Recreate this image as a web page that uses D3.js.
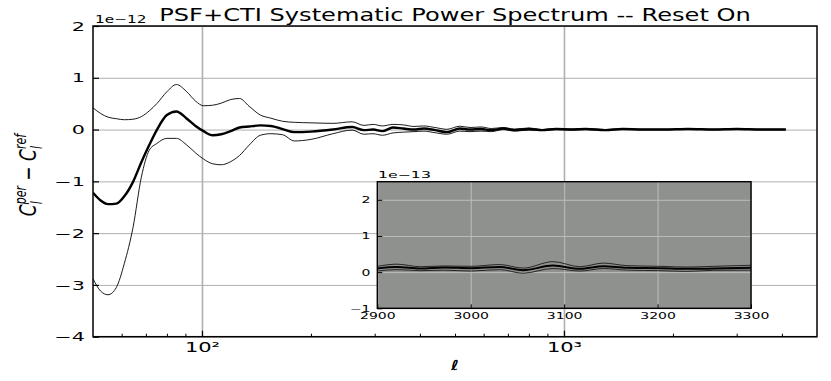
<!DOCTYPE html>
<html>
<head>
<meta charset="utf-8">
<script src="https://cdn.jsdelivr.net/npm/d3@7"></script>
<style>
	body { margin: 0; background: white; }
	text { font-family: "DejaVu Sans", sans-serif; fill: black; }
</style>
</head>
<body>
<div id="chart"></div>
<script>

// multipole values and the three curves (units of 1e-12)
const ell = [50, 52.5, 55, 58, 61, 64.5, 68, 71.5, 75, 80,
	85, 90.5, 96, 101, 107, 113, 120, 127, 135, 145,
	155, 167, 180, 200, 230, 260, 280, 297, 315, 337,
	360, 385, 410, 440, 475, 515, 550, 590, 630, 680,
	730, 800, 870, 950, 1050, 1150, 1300, 1450, 1650, 1900,
	2200, 2600, 3000, 3500, 4100];

const meanVals = [-1.22, -1.37, -1.44, -1.43, -1.29, -1.01, -0.63, -0.30, -0.01, 0.28,
	0.35, 0.22, 0.07, -0.03, -0.11, -0.09, -0.03, 0.04, 0.06, 0.08,
	0.07, 0.01, -0.05, -0.04, 0.0, 0.05, -0.01, 0.0, -0.03, 0.04,
	0.02, 0.0, 0.02, -0.01, -0.05, 0.02, 0.0, 0.01, -0.01, 0.02,
	-0.01, 0.01, -0.01, 0.01, 0.0, 0.01, -0.01, 0.01, 0.0, 0.0,
	0.01, 0.0, 0.01, 0.0, 0.0];

const upperVals = [0.42, 0.31, 0.24, 0.21, 0.19, 0.20, 0.25, 0.36, 0.50, 0.73,
	0.87, 0.74, 0.55, 0.46, 0.47, 0.51, 0.58, 0.60, 0.45, 0.28,
	0.22, 0.16, 0.14, 0.13, 0.12, 0.15, 0.08, 0.10, 0.07, 0.10,
	0.09, 0.06, 0.07, 0.04, 0.005, 0.065, 0.04, 0.05, 0.02, 0.04,
	0.01, 0.03, 0.0, 0.02, 0.01, 0.02, 0.0, 0.015, 0.005, 0.005,
	0.01, 0.005, 0.01, 0.005, 0.005];

const lowerVals = [-2.88, -3.12, -3.19, -3.05, -2.59, -1.89, -0.92, -0.40, -0.27, -0.17,
	-0.17, -0.29, -0.45, -0.57, -0.66, -0.68, -0.62, -0.50, -0.30, -0.11,
	-0.08, -0.10, -0.22, -0.19, -0.08, -0.01, -0.09, -0.08, -0.11, -0.065,
	-0.05, -0.04, -0.03, -0.06, -0.09, -0.03, -0.04, -0.03, -0.04, 0.0,
	-0.03, -0.01, -0.02, 0.0, -0.01, 0.0, -0.02, 0.005, -0.005, -0.005,
	0.01, -0.005, 0.01, -0.005, -0.005];

// zoomed inset, 2900 < l < 3300 (units of 1e-13)
const insetEll = [2900, 2921, 2946, 2971, 3000, 3031, 3056, 3088, 3117, 3142, 3167, 3203, 3231, 3260, 3300];
const insetMean = [0.10, 0.14, 0.10, 0.13, 0.11, 0.14, 0.055, 0.18, 0.09, 0.16, 0.12, 0.11, 0.09, 0.10, 0.12];
const insetUpper = [0.16, 0.22, 0.15, 0.17, 0.16, 0.21, 0.11, 0.29, 0.15, 0.25, 0.18, 0.16, 0.14, 0.16, 0.19];
const insetLower = [0.03, 0.07, 0.04, 0.055, 0.03, 0.07, -0.03, 0.10, 0.03, 0.10, 0.055, 0.04, 0.02, 0.05, 0.055];

// ticks
const yTicks = [-4, -3, -2, -1, 0, 1, 2];
const xMajorTicks = [100, 1000];
const xMinorTicks = [60, 70, 80, 90, 200, 300, 400, 500, 600, 700, 800, 900, 2000, 3000, 4000];
const insetXTicks = [2900, 3000, 3100, 3200, 3300];
const insetYTicks = [-1, 0, 1, 2];
const superscripts = {100: "10²", 1000: "10³"};

function main() {

	const SVG_WIDTH = 831;
	const SVG_HEIGHT = 381;

	// main axes box
	var margin = {top: 26, left: 93, right: 14, bottom: 44.3};
	var width = SVG_WIDTH - margin.left - margin.right;
	var height = SVG_HEIGHT - margin.top - margin.bottom;

	// the text in the picture is wide, so stretch it sideways
	const SX_TITLE = 1.42;
	const SX_TICK = 1.8;
	const SX_SMALL = 1.75;
	var intFormat = d3.format("d");

	var svg = d3.select("#chart")
		.append("svg")
		.attr("width", SVG_WIDTH)
		.attr("height", SVG_HEIGHT);

	var g = svg.append("g")
		.attr("transform", "translate(" + margin.left + "," + margin.top + ")");

	var x = d3.scaleLog().domain([50, 5000]).range([0, width]);
	var y = d3.scaleLinear().domain([-4, 2]).range([height, 0]);

	g.append("clipPath").attr("id", "clip-main")
		.append("rect").attr("width", width).attr("height", height);

	// grid
	g.append("g")
		.attr("class", "grid")
		.call(d3.axisLeft(y).tickValues(yTicks).tickSize(-width).tickFormat(""))
		.call(s => s.select(".domain").remove())
		.call(s => s.selectAll("line").attr("stroke", "#b0b0b0").attr("stroke-width", 1));
	g.append("g")
		.attr("class", "grid")
		.attr("transform", "translate(0," + height + ")")
		.call(d3.axisBottom(x).tickValues(xMajorTicks).tickSize(-height).tickFormat(""))
		.call(s => s.select(".domain").remove())
		.call(s => s.selectAll("line").attr("stroke", "#b0b0b0").attr("stroke-width", 1.6));

	// curves
	var pts = vals => ell.map((l, i) => [l, vals[i]]);
	var line = d3.line()
		.x(d => x(d[0]))
		.y(d => y(d[1]))
		.curve(d3.curveMonotoneX);

	var curves = g.append("g").attr("clip-path", "url(#clip-main)");
	curves.append("path").attr("d", line(pts(upperVals)))
		.attr("fill", "none").attr("stroke", "black").attr("stroke-width", 0.9);
	curves.append("path").attr("d", line(pts(lowerVals)))
		.attr("fill", "none").attr("stroke", "black").attr("stroke-width", 0.9);
	curves.append("path").attr("d", line(pts(meanVals)))
		.attr("fill", "none").attr("stroke", "black").attr("stroke-width", 2.4);

	// axes, ticks pointing inwards
	var yAxis = g.append("g")
		.call(d3.axisLeft(y).tickValues(yTicks).tickSizeInner(-6).tickSizeOuter(0).tickFormat(intFormat))
		.call(s => s.select(".domain").remove());
	yAxis.selectAll("line").attr("stroke-width", 1.2);
	yAxis.selectAll("text")
		.attr("x", -8 / SX_TICK)
		.attr("dy", "0.36em")
		.attr("transform", "scale(" + SX_TICK + ",1)")
		.style("font-size", "11.5px")
		.style("font-family", "DejaVu Sans");

	var xAxis = g.append("g")
		.attr("transform", "translate(0," + height + ")")
		.call(d3.axisBottom(x).tickValues(xMajorTicks).tickSizeInner(-6).tickSizeOuter(0)
			.tickFormat(d => superscripts[d]))
		.call(s => s.select(".domain").remove());
	xAxis.selectAll("line").attr("stroke-width", 1.2);
	xAxis.selectAll("text")
		.attr("y", 15.5)
		.attr("dy", 0)
		.attr("transform", "scale(1.5,1)")
		.style("font-size", "14px")
		.style("font-family", "DejaVu Sans");

	g.append("g")
		.attr("transform", "translate(0," + height + ")")
		.call(d3.axisBottom(x).tickValues(xMinorTicks).tickSizeInner(-3).tickSizeOuter(0).tickFormat(""))
		.call(s => s.select(".domain").remove())
		.call(s => s.selectAll("line").attr("stroke-width", 1));

	// frame
	g.append("rect")
		.attr("width", width).attr("height", height)
		.attr("fill", "none").attr("stroke", "black").attr("stroke-width", 1.5);

	// title and offset text
	svg.append("text")
		.attr("transform", "translate(455,21) scale(" + SX_TITLE + ",1)")
		.attr("text-anchor", "middle")
		.style("font-size", "17px")
		.text("PSF+CTI Systematic Power Spectrum -- Reset On");
	svg.append("text")
		.attr("transform", "translate(95,22.5) scale(1.46,1)")
		.style("font-size", "10.5px")
		.text("1e\u221212");

	// axis labels
	var ylab = svg.append("text")
		.attr("transform", "translate(36,175) scale(1.4,1) rotate(-90)")
		.attr("text-anchor", "middle")
		.style("font-size", "17px")
		.style("font-style", "italic");
	ylab.append("tspan").text("C");
	ylab.append("tspan").attr("dy", 4).style("font-size", "11px").text("l");
	ylab.append("tspan").attr("dx", -3).attr("dy", -11).style("font-size", "11px").text("per");
	ylab.append("tspan").attr("dy", 7).style("font-style", "normal").text(" \u2212 ");
	ylab.append("tspan").text("C");
	ylab.append("tspan").attr("dy", 4).style("font-size", "11px").text("l");
	ylab.append("tspan").attr("dx", -3).attr("dy", -11).style("font-size", "11px").text("ref");

	svg.append("text")
		.attr("transform", "translate(455,370) scale(1.2,1)")
		.attr("text-anchor", "middle")
		.style("font-size", "14px")
		.style("font-style", "italic")
		.style("font-weight", "bold")
		.text("\u2113");

	// inset
	var inset = {left: 377.3, top: 181.7, width: 373.7, height: 126.6};
	var ig = svg.append("g")
		.attr("transform", "translate(" + inset.left + "," + inset.top + ")");

	var xi = d3.scaleLinear().domain([2900, 3300]).range([0, inset.width]);
	var yi = d3.scaleLinear().domain([-1, 2.5]).range([inset.height, 0]);

	ig.append("rect")
		.attr("width", inset.width).attr("height", inset.height)
		.attr("fill", "#8f918e");

	ig.append("g")
		.call(d3.axisLeft(yi).tickValues(insetYTicks).tickSize(-inset.width).tickFormat(""))
		.call(s => s.select(".domain").remove())
		.call(s => s.selectAll("line").attr("stroke", "#bdbdbb").attr("stroke-width", 1));
	ig.append("g")
		.attr("transform", "translate(0," + inset.height + ")")
		.call(d3.axisBottom(xi).tickValues(insetXTicks).tickSize(-inset.height).tickFormat(""))
		.call(s => s.select(".domain").remove())
		.call(s => s.selectAll("line").attr("stroke", "#bdbdbb").attr("stroke-width", 1));

	ig.append("clipPath").attr("id", "clip-inset")
		.append("rect").attr("width", inset.width).attr("height", inset.height);

	var ipts = vals => insetEll.map((l, i) => [l, vals[i]]);
	var iline = d3.line()
		.x(d => xi(d[0]))
		.y(d => yi(d[1]))
		.curve(d3.curveMonotoneX);

	var icurves = ig.append("g").attr("clip-path", "url(#clip-inset)");
	icurves.append("path").attr("d", iline(ipts(insetUpper)))
		.attr("fill", "none").attr("stroke", "#1a1a1a").attr("stroke-width", 0.9);
	icurves.append("path").attr("d", iline(ipts(insetLower)))
		.attr("fill", "none").attr("stroke", "#1a1a1a").attr("stroke-width", 0.9);
	icurves.append("path").attr("d", iline(ipts(insetMean)))
		.attr("fill", "none").attr("stroke", "black").attr("stroke-width", 2);

	var iy = ig.append("g")
		.call(d3.axisLeft(yi).tickValues(insetYTicks).tickSizeInner(-5).tickSizeOuter(0).tickFormat(intFormat))
		.call(s => s.select(".domain").remove());
	iy.selectAll("line").attr("stroke-width", 1);
	iy.selectAll("text")
		.attr("x", -7 / SX_SMALL)
		.attr("dy", "0.36em")
		.attr("transform", "scale(" + SX_SMALL + ",1)")
		.style("font-size", "8px")
		.style("font-family", "DejaVu Sans");

	var ix = ig.append("g")
		.attr("transform", "translate(0," + inset.height + ")")
		.call(d3.axisBottom(xi).tickValues(insetXTicks).tickSizeInner(-4).tickSizeOuter(0).tickFormat(intFormat))
		.call(s => s.select(".domain").remove());
	ix.selectAll("line").attr("stroke-width", 1);
	ix.selectAll("text")
		.attr("y", 11)
		.attr("dy", 0)
		.attr("transform", "scale(" + SX_SMALL + ",1)")
		.style("font-size", "8px")
		.style("font-family", "DejaVu Sans");

	ig.append("rect")
		.attr("width", inset.width).attr("height", inset.height)
		.attr("fill", "none").attr("stroke", "black").attr("stroke-width", 1.4);

	svg.append("text")
		.attr("transform", "translate(378,178) scale(1.75,1)")
		.style("font-size", "9px")
		.text("1e\u221213");
}

function whenDocumentLoaded(action) {
	if (document.readyState === "loading") {
		document.addEventListener("DOMContentLoaded", action);
	} else {
		action();
	}
}

whenDocumentLoaded(() => {
	main();
});
</script>
</body>
</html>
